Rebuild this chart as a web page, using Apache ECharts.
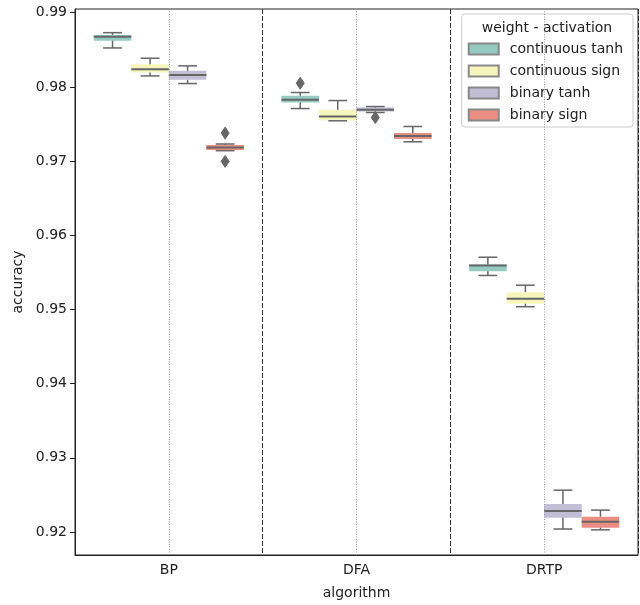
<!DOCTYPE html>
<html>
<head>
<meta charset="utf-8">
<script src="https://cdn.jsdelivr.net/npm/echarts@6/dist/echarts.min.js"></script>
<style>
  html, body { margin: 0; padding: 0; background: #fff; }
  #chart { width: 640px; height: 605px; }
</style>
</head>
<body>
<div id="chart"></div>
<script>
const algorithms = ["BP", "DFA", "DRTP"];
const groupNames = ["continuous tanh", "continuous sign", "binary tanh", "binary sign"];
const groupColors = ["#96cac1", "#f6f6bc", "#c1bed6", "#ea8e83"];
const yTicks = [0.92, 0.93, 0.94, 0.95, 0.96, 0.97, 0.98, 0.99];

// [algorithm index, low whisker, q1, median, q3, high whisker]
const contTanh = [
  [0, 0.98525, 0.98623, 0.98677, 0.98700, 0.98731],
  [1, 0.97708, 0.97789, 0.97826, 0.97879, 0.97924],
  [2, 0.95458, 0.95516, 0.95592, 0.95606, 0.95704]
];
const contSign = [
  [0, 0.98148, 0.98193, 0.98238, 0.98306, 0.98386],
  [1, 0.97543, 0.97548, 0.97601, 0.97691, 0.97816],
  [2, 0.95037, 0.95077, 0.95144, 0.95233, 0.95327]
];
const binTanh = [
  [0, 0.98045, 0.98095, 0.98162, 0.98216, 0.98283],
  [1, 0.97655, 0.97668, 0.97691, 0.97722, 0.97735],
  [2, 0.92040, 0.92193, 0.92282, 0.92376, 0.92564]
];
const binSign = [
  [0, 0.97140, 0.97150, 0.97184, 0.97218, 0.97230],
  [1, 0.97260, 0.97297, 0.97337, 0.97377, 0.97466],
  [2, 0.92029, 0.92058, 0.92139, 0.92206, 0.92295]
];
// [algorithm index, group index, value]
const outliers = [
  [0, 3, 0.97377],
  [0, 3, 0.96996],
  [1, 0, 0.98050],
  [1, 2, 0.97587]
];

const lineGray = "#666666";

function boxRenderer(g) {
  return function(params, api) {
    const cat = api.value(0);
    const band = api.size([1, 0])[0];
    const w = band * 0.2;
    const cx = api.coord([cat, api.value(3)])[0];
    const x0 = cx - band * 0.4 + g * w;
    const xm = x0 + w / 2;
    const yLow = api.coord([cat, api.value(1)])[1];
    const yQ1 = api.coord([cat, api.value(2)])[1];
    const yMed = api.coord([cat, api.value(3)])[1];
    const yQ3 = api.coord([cat, api.value(4)])[1];
    const yHigh = api.coord([cat, api.value(5)])[1];
    const ls = { stroke: lineGray, lineWidth: 1.5 };
    return {
      type: "group",
      children: [
        { type: "rect", shape: { x: x0, y: yQ3, width: w, height: Math.max(yQ1 - yQ3, 1) },
          style: { fill: groupColors[g], stroke: null } },
        { type: "line", shape: { x1: xm, y1: yQ3, x2: xm, y2: yHigh }, style: ls },
        { type: "line", shape: { x1: xm, y1: yQ1, x2: xm, y2: yLow }, style: ls },
        { type: "line", shape: { x1: xm - w / 4, y1: yHigh, x2: xm + w / 4, y2: yHigh }, style: ls },
        { type: "line", shape: { x1: xm - w / 4, y1: yLow, x2: xm + w / 4, y2: yLow }, style: ls },
        { type: "line", shape: { x1: x0, y1: yMed, x2: x0 + w, y2: yMed }, style: { stroke: lineGray, lineWidth: 2 } }
      ]
    };
  };
}

function outlierRenderer(params, api) {
  const cat = api.value(0);
  const g = api.value(1);
  const band = api.size([1, 0])[0];
  const w = band * 0.2;
  const p = api.coord([cat, api.value(2)]);
  const xm = p[0] - band * 0.4 + g * w + w / 2;
  const y = p[1];
  return {
    type: "polygon",
    shape: { points: [[xm, y - 6], [xm + 4, y], [xm, y + 6], [xm - 4, y]] },
    style: { fill: lineGray, stroke: lineGray, lineWidth: 1 }
  };
}

const groupData = [contTanh, contSign, binTanh, binSign];

const series = groupData.map((d, g) => ({
  name: groupNames[g],
  type: "custom",
  renderItem: boxRenderer(g),
  encode: { x: 0, y: [1, 2, 3, 4, 5] },
  itemStyle: { color: groupColors[g], borderColor: "#888", borderWidth: 1 },
  data: d,
  z: 3
}));

series.push({
  type: "custom",
  renderItem: outlierRenderer,
  encode: { x: 0, y: 2 },
  data: outliers,
  z: 4
});

series.push({
  type: "line",
  data: [],
  silent: true,
  markLine: {
    silent: true,
    symbol: "none",
    label: { show: false },
    lineStyle: { color: "#9a9a9a", type: [1, 1.5], width: 1 },
    data: algorithms.map(a => ({ xAxis: a }))
  },
  z: 1
});

const chart = echarts.init(document.getElementById("chart"), null, { renderer: "canvas" });

chart.setOption({
  animation: false,
  textStyle: { fontFamily: "DejaVu Sans", color: "#222" },
  grid: {
    left: 75, right: 2, top: 9, bottom: 49,
    show: true, borderColor: "#222", borderWidth: 1
  },
  xAxis: {
    type: "category",
    data: algorithms,
    name: "algorithm",
    nameLocation: "middle",
    nameGap: 31,
    nameTextStyle: { fontSize: 14, color: "#222" },
    axisLine: { lineStyle: { color: "#222" } },
    axisTick: { alignWithLabel: true, length: 5, lineStyle: { color: "#222" } },
    axisLabel: { fontSize: 14, color: "#222", margin: 8 },
    splitLine: { show: true, lineStyle: { color: "#333", type: [5, 2], width: 1 } }
  },
  yAxis: {
    type: "value",
    min: 0.9169,
    max: 0.9905,
    name: "accuracy",
    nameLocation: "middle",
    nameGap: 50,
    nameTextStyle: { fontSize: 14, color: "#222" },
    axisLine: { show: true, lineStyle: { color: "#222" } },
    axisTick: { show: true, length: 5, customValues: yTicks, lineStyle: { color: "#222" } },
    axisLabel: { fontSize: 14, color: "#222", margin: 8, customValues: yTicks,
      formatter: v => v.toFixed(2) },
    splitLine: { show: false }
  },
  legend: {
    data: groupNames,
    orient: "vertical",
    right: 7,
    top: 14,
    padding: [28, 10, 5, 6],
    itemGap: 8,
    itemWidth: 30,
    itemHeight: 11,
    icon: "rect",
    backgroundColor: "rgba(255,255,255,0.8)",
    borderColor: "#cccccc",
    borderWidth: 1,
    borderRadius: 3,
    textStyle: { fontSize: 14, color: "#222", padding: [0, 0, 0, 6] },
    selectedMode: false
  },
  graphic: [{
    type: "text",
    x: 547,
    y: 28,
    z: 100,
    style: { text: "weight - activation", font: "14px 'DejaVu Sans'", fill: "#222",
      textAlign: "center", textVerticalAlign: "middle" }
  }],
  series: series
});
</script>
</body>
</html>
